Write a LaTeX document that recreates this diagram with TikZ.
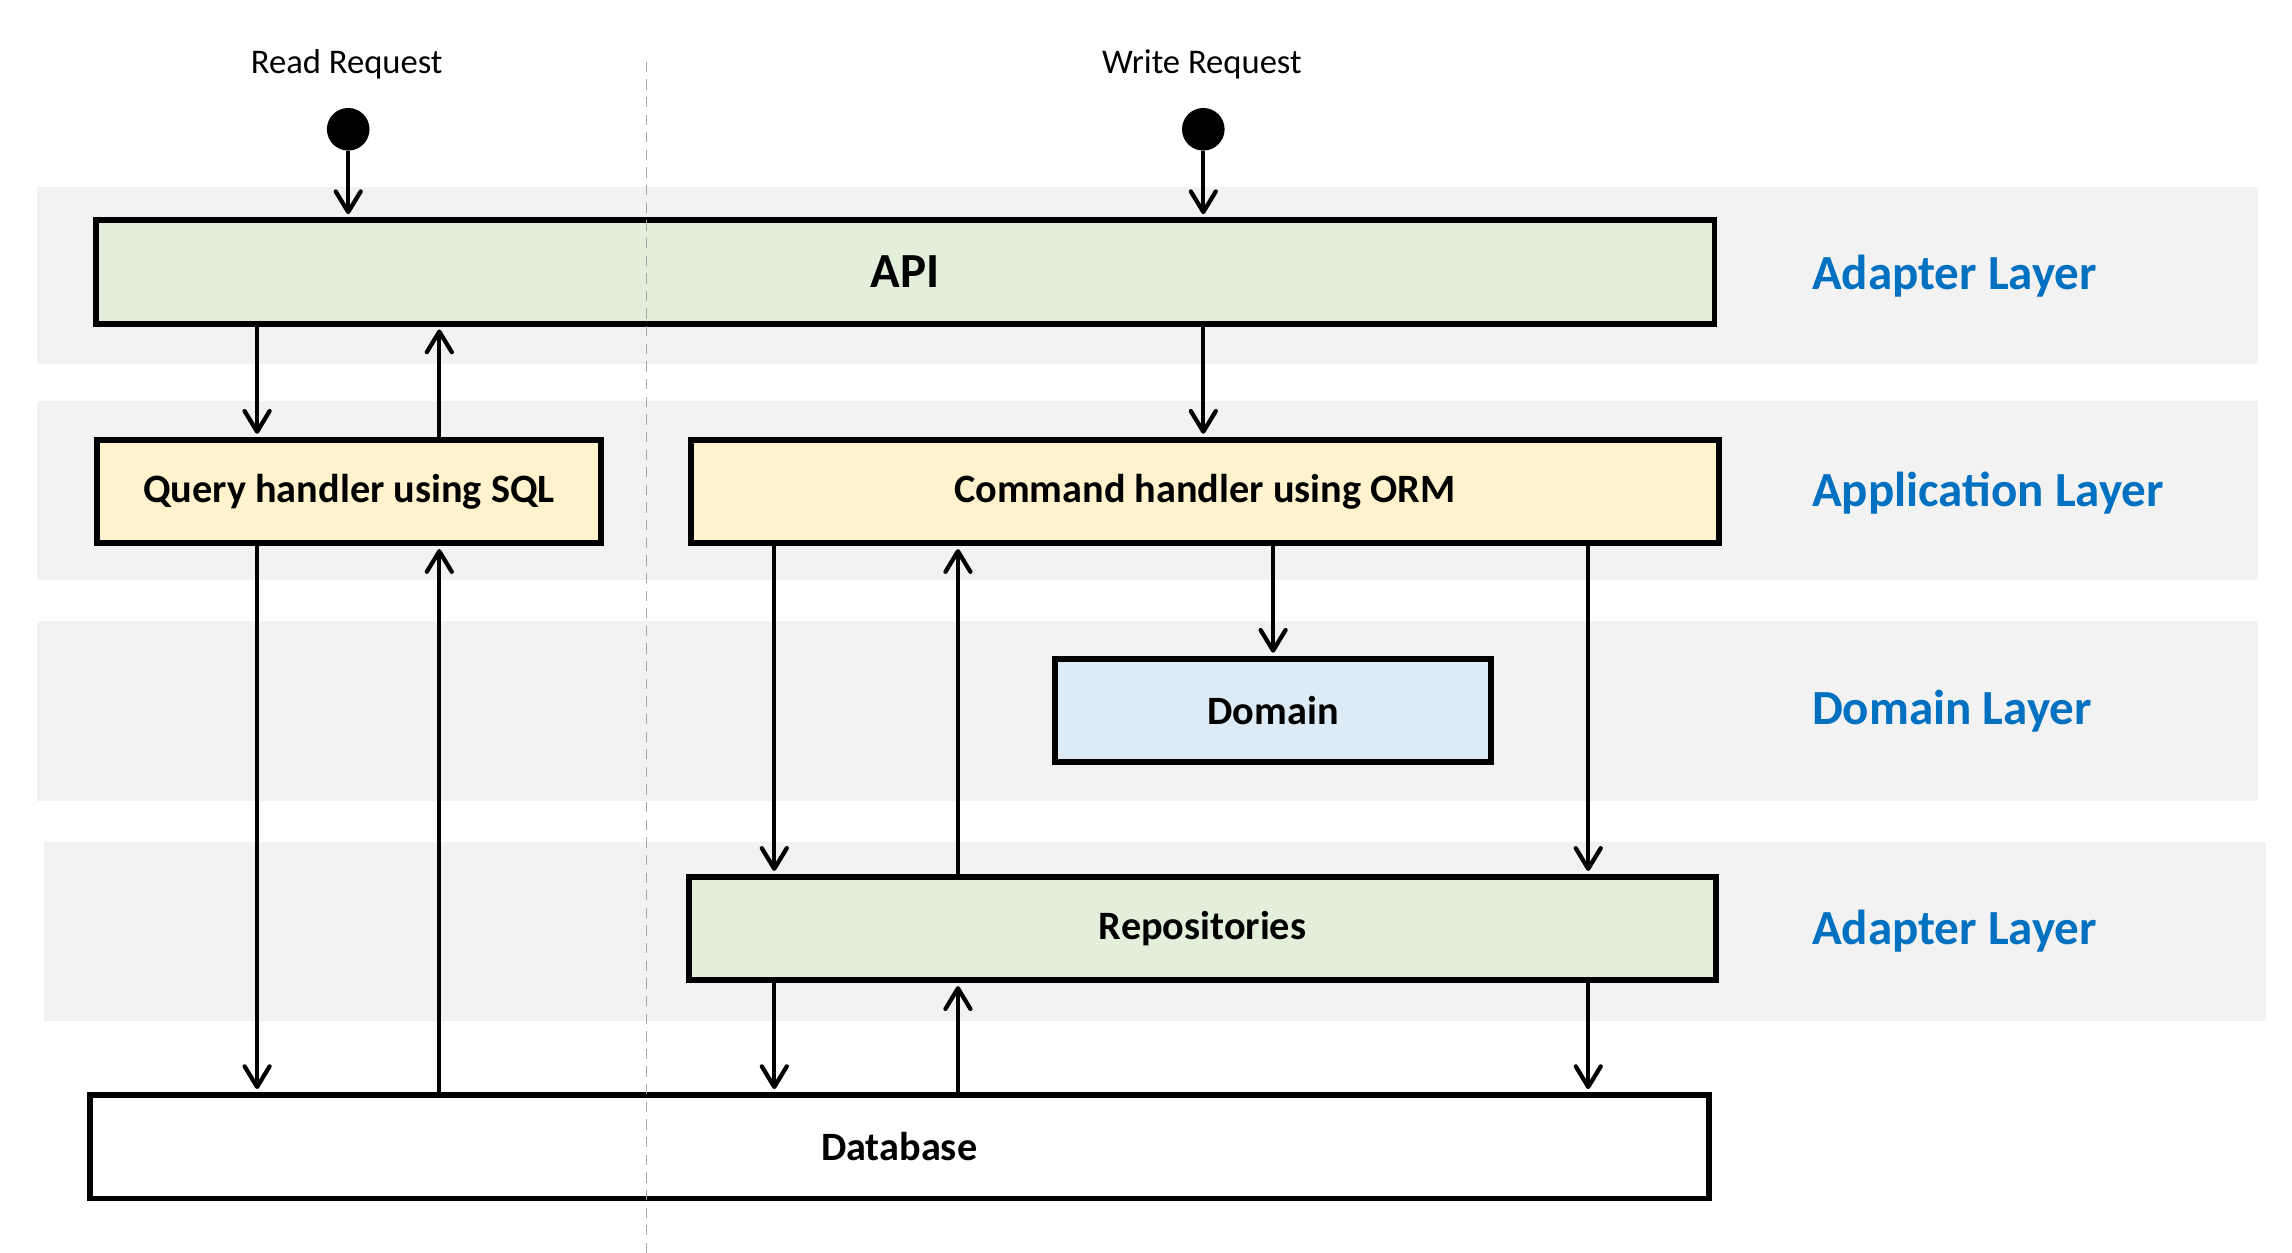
\documentclass[tikz,border=0pt]{standalone}
\usepackage{fontspec}
\setmainfont{Carlito}
\usepackage{tikz}
\usetikzlibrary{arrows.meta}
\definecolor{bandgray}{HTML}{F2F2F2}
\definecolor{apigreen}{HTML}{E2EFDA}
\definecolor{appyellow}{HTML}{FFF2CC}
\definecolor{domblue}{HTML}{DDEBF7}
\definecolor{layerblue}{HTML}{0070C0}
\definecolor{sepgray}{HTML}{A6A6A6}
\tikzstyle{band} = [fill=bandgray, draw=none]
\tikzstyle{layerbox} = [draw=black, line width=0.08cm, rectangle, inner sep=0pt,
    minimum height=1.41cm, font=\fontsize{15.6}{18}\selectfont\bfseries]
\tikzstyle{layertitle} = [text=layerblue, anchor=base west, inner sep=0pt,
    font=\fontsize{19}{22}\selectfont\bfseries]
\tikzstyle{request} = [anchor=base, inner sep=0pt, font=\fontsize{13.4}{16}\selectfont]
\tikzstyle{startdot} = [circle, fill=black, minimum size=0.58cm, inner sep=0pt]
\tikzstyle{flow} = [line width=0.058cm, shorten >=0.04cm,
    -{Straight Barb[length=0.28cm,width=0.34cm,round]}]

\begin{document}
\begin{tikzpicture}[x=0.02cm, y=-0.02cm]
\useasboundingbox (0,0) rectangle (1560,852.8);

\fill [band] (25,127) rectangle (1537,248);
\fill [band] (25,273) rectangle (1537,395);
\fill [band] (25,423) rectangle (1537,545);
\fill [band] (30,573) rectangle (1542,695);

\node [request] (readreq) at (236,50) {Read Request};
\node [request] (writereq) at (818,50) {Write Request};
\node [startdot] (readdot) at (237,88) {};
\node [startdot] (writedot) at (819,88) {};

\node [layerbox, fill=apigreen, minimum width=22.04cm,
    font=\fontsize{19}{22}\selectfont\bfseries] (api) at (616,185) {API};
\node [layerbox, fill=appyellow, minimum width=6.86cm] (qry) at (237.5,334.5) {Query handler using SQL};
\node [layerbox, fill=appyellow, minimum width=14cm] (cmd) at (820,334.5) {Command handler using ORM};
\node [layerbox, fill=domblue, minimum width=5.94cm] (dom) at (866.5,483.5) {Domain};
\node [layerbox, fill=apigreen, minimum width=13.98cm] (repo) at (818.5,632) {Repositories};
\node [layerbox, fill=white, minimum width=22.04cm] (db) at (612,780.5) {Database};

\node [layertitle] (adapter1) at (1233,197) {Adapter Layer};
\node [layertitle] (application) at (1233,345) {Application Layer};
\node [layertitle] (domain) at (1233,493) {Domain Layer};
\node [layertitle] (adapter2) at (1233,643) {Adapter Layer};

\coordinate (sqldown) at (175,0);
\coordinate (sqlup) at (299,0);
\coordinate (ormdown) at (527,0);
\coordinate (ormup) at (652,0);
\coordinate (ormright) at (1081,0);
\coordinate (septop) at (440,42);
\coordinate (sepbot) at (440,852.8);

\draw [dashed, sepgray, line width=0.02cm, dash pattern=on 0.14cm off 0.1cm] (septop) -- (sepbot);

\draw [flow] (readdot) -- (readdot |- api.north);
\draw [flow] (writedot) -- (writedot |- api.north);

\draw [flow] (api.south -| sqldown) -- (qry.north -| sqldown);
\draw [flow] (qry.north -| sqlup) -- (api.south -| sqlup);
\draw [flow] (writedot |- api.south) -- (writedot |- cmd.north);

\draw [flow] (qry.south -| sqldown) -- (db.north -| sqldown);
\draw [flow] (db.north -| sqlup) -- (qry.south -| sqlup);

\draw [flow] (cmd.south -| ormdown) -- (repo.north -| ormdown);
\draw [flow] (repo.north -| ormup) -- (cmd.south -| ormup);
\draw [flow] (cmd.south -| dom.north) -- (dom.north);
\draw [flow] (cmd.south -| ormright) -- (repo.north -| ormright);

\draw [flow] (repo.south -| ormdown) -- (db.north -| ormdown);
\draw [flow] (db.north -| ormup) -- (repo.south -| ormup);
\draw [flow] (repo.south -| ormright) -- (db.north -| ormright);

\end{tikzpicture}
\end{document}
